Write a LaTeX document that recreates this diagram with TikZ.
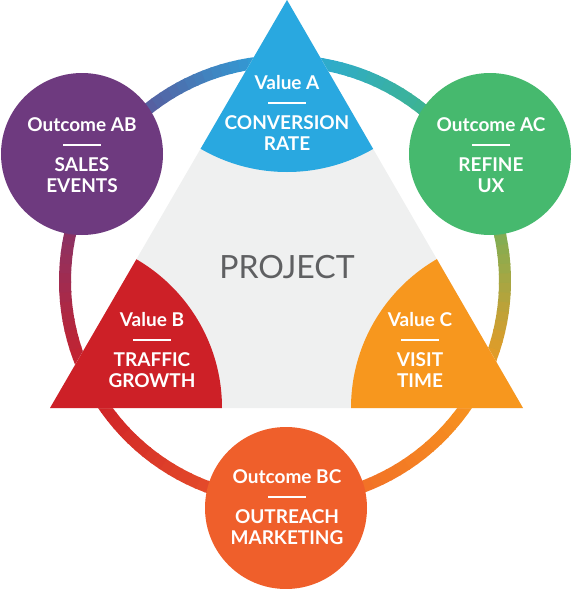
\documentclass[tikz,border=0pt]{standalone}
\usepackage{fontspec}
\setmainfont{Lato}
\usepackage{tikz}
\usetikzlibrary{calc}
\definecolor{ablue}{HTML}{29A8E0}
\definecolor{bred}{HTML}{CD2027}
\definecolor{corange}{HTML}{F7971E}
\definecolor{abpurple}{HTML}{6E3A7F}
\definecolor{acgreen}{HTML}{46B96E}
\definecolor{bcorange}{HTML}{EF5F2B}
\definecolor{projgray}{HTML}{EFF0F0}
\definecolor{projtext}{HTML}{5F6062}

\begin{document}
\begin{tikzpicture}[x=1pt, y=-1pt,
	valtitle/.style={text=white, font=\bfseries\fontsize{19}{21}\selectfont},
	valbody/.style={text=white, align=center, font=\bfseries\fontsize{19}{21}\selectfont},
	sepline/.style={white, line width=1.6pt},
	outcome/.style={circle, minimum size=162pt, inner sep=0pt}]
				\useasboundingbox (0,0) rectangle (572,589);
				\def\ringr{220}
				
				% ring behind everything
				\coordinate (ring) at (285,281);
				\foreach \a/\b/\ca/\cb in {-90/-32/ablue/acgreen, -32/28/acgreen/corange, 28/90/corange/bcorange, 90/152/bcorange/bred, 152/212/bred/abpurple, 212/270/abpurple/ablue}
				\foreach \i in {0,...,23} {
					\pgfmathsetmacro\s{\a+(\b-\a)*\i/24}
					\pgfmathsetmacro\e{\a+(\b-\a)*(\i+1)/24+0.4}
					\pgfmathtruncatemacro\p{100-100*\i/23}
					\draw [line width=12pt, \ca!\p!\cb] (ring) ++(\s:\ringr) arc [start angle=\s, end angle=\e, radius=\ringr];
				}
				
				% project triangle
				\coordinate (A) at (287,0);
				\coordinate (B) at (50,408);
				\coordinate (C) at (523,408);
				\fill [projgray] (A) -- (B) -- (C) -- cycle;
				\begin{scope}
					\clip (A) -- (B) -- (C) -- cycle;
					\fill [ablue] (A) circle (172);
					\fill [bred] (B) circle (172);
					\fill [corange] (C) circle (172);
				\end{scope}
				
				\node [outcome, fill=abpurple] (ab) at (82,154) {};
				\node [outcome, fill=acgreen] (ac) at (490,154) {};
				\node [outcome, fill=bcorange] (bc) at (286,508) {};
				
				\foreach \n/\x/\y/\t/\b in {va/287/83/Value A/{CONVERSION\\RATE}, vb/152/320/Value B/{TRAFFIC\\GROWTH}, vc/420/320/Value C/{VISIT\\TIME}, oab/82/125/Outcome AB/{SALES\\EVENTS}, oac/491/125/Outcome AC/{REFINE\\UX}, obc/287/477/Outcome BC/{OUTREACH\\MARKETING}}
				{
					\node [valtitle] (\n title) at (\x,\y) {\t};
					\draw [sepline] ($(\n title)+(-19,20)$) -- ++(38,0);
					\node [valbody] (\n body) at (\x,\y+50) {\b};
				}
				
				\node [text=projtext, font=\fontsize{32}{34}\selectfont] (proj) at (287,267) {PROJECT};
				\end{tikzpicture}
\end{document}
